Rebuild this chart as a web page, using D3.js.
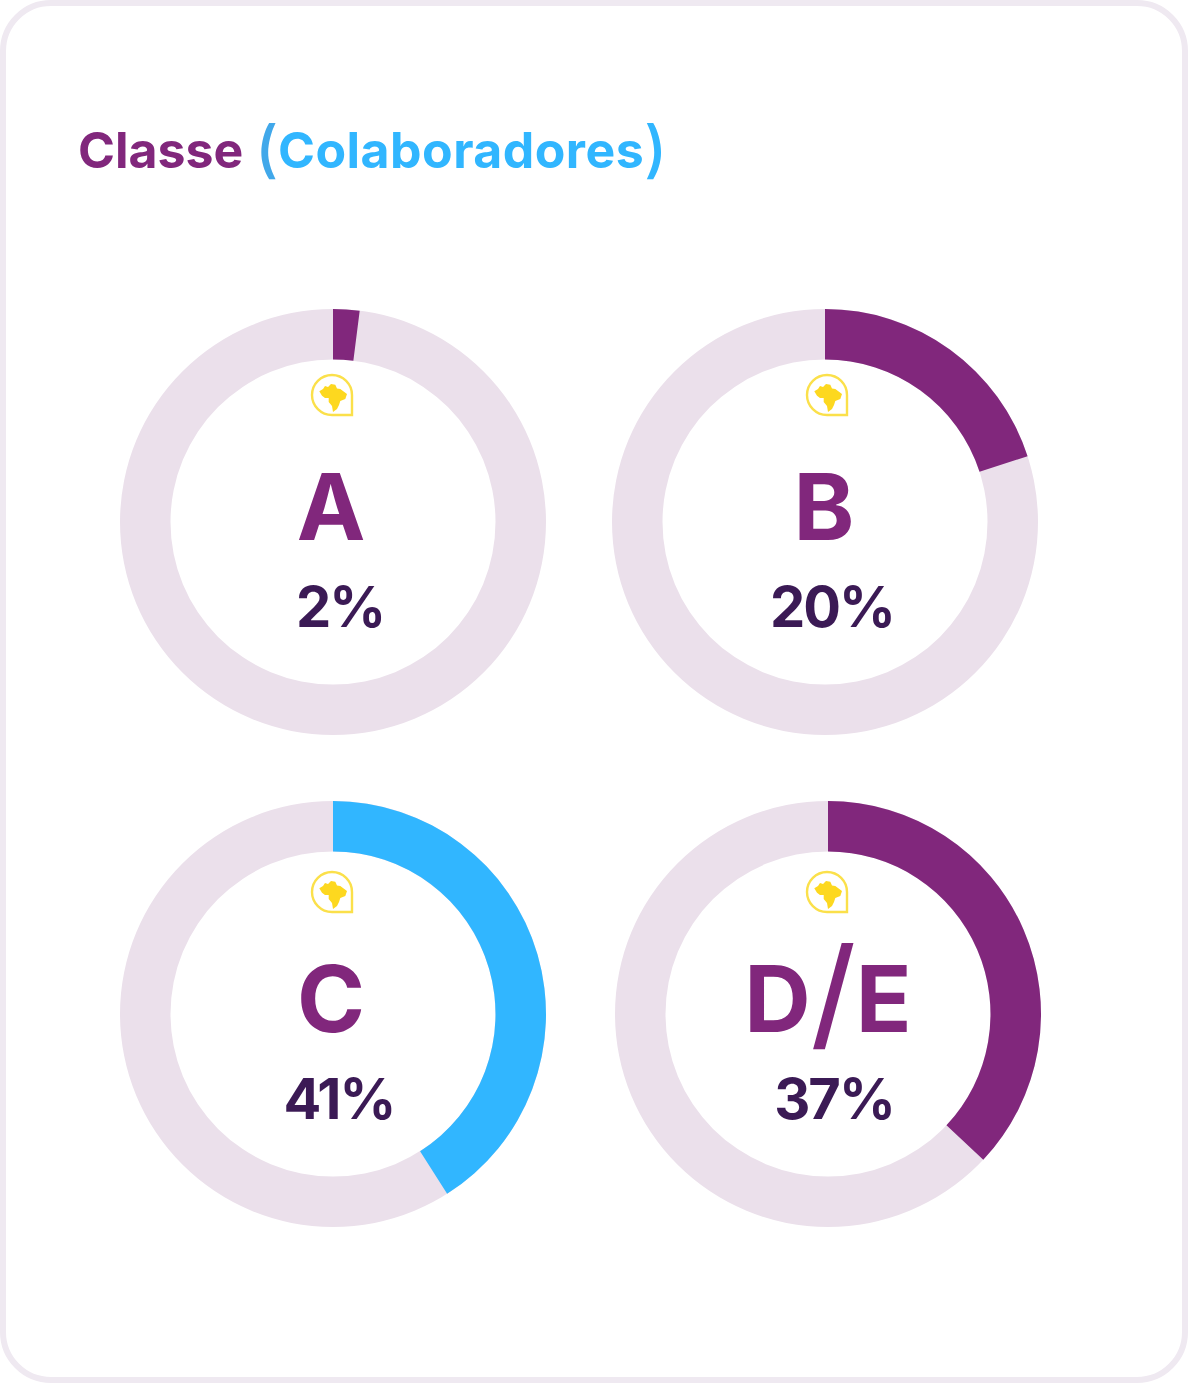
<!DOCTYPE html>
<html><head><meta charset="utf-8">
<script src="https://cdn.jsdelivr.net/npm/d3@7/dist/d3.min.js"></script>
<style>html,body{margin:0;padding:0;background:#fff}svg{display:block}text{font-family:"Inter","Noto Sans",sans-serif}</style>
</head><body><svg id="c" width="1188" height="1383"></svg>
<script>
const categories=["A","B","C","D/E"];
const values=[2,20,41,37];
const valueLabels=["2%","20%","41%","37%"];
const colors=["#81277c","#81277c","#31b6ff","#81277c"];
const centers=[[333,522],[825,522],[333,1014],[828,1014]];
const labelX=[331,824,331,828];
const pctX=[340,832,339,834];
const iconPos=[[332,395],[827,395],[332,892],[827,892]];
const svg=d3.select("#c");
svg.append("rect").attr("x",3).attr("y",3).attr("width",1182).attr("height",1377).attr("rx",48).attr("fill","#fff").attr("stroke","#efe9f1").attr("stroke-width",6);
const t=svg.append("text").attr("x",78).attr("y",168).attr("font-size",50).attr("font-weight",700);
t.append("tspan").attr("fill","#81277c").text("Classe ");
t.append("tspan").attr("fill","#41a8ea").attr("font-size",62).attr("font-weight",500).attr("dy",3).text("(");
t.append("tspan").attr("fill","#31b6ff").attr("dy",-3).attr("letter-spacing",0.45).text("Colaboradores");
t.append("tspan").attr("fill","#31b6ff").attr("font-size",62).attr("font-weight",500).attr("dy",3).text(")");
const angle=d3.scaleLinear().domain([0,100]).range([0,2*Math.PI]);
const arc=d3.arc().innerRadius(162.5).outerRadius(213);
categories.forEach((c,i)=>{
 const g=svg.append("g").attr("transform",`translate(${centers[i]})`);
 g.append("path").attr("d",arc({startAngle:0,endAngle:2*Math.PI})).attr("fill","#ebe0eb");
 g.append("path").attr("d",arc({startAngle:0,endAngle:angle(values[i])})).attr("fill",colors[i]);
 const ic=svg.append("g").attr("transform",`translate(${iconPos[i]})`);
 ic.append("path").attr("d","M0,-20 A20,20 0 1 0 0,20 L20,20 L20,0 A20,20 0 0 0 0,-20Z").attr("fill","#fff").attr("stroke","#fbe04a").attr("stroke-width",2.4);
 ic.append("path").attr("d","M-12.7,-3.7 L-9,-6 L-7,-9 L-4,-8 L-1,-11 L3.3,-10.3 L5,-6.5 L8.3,-6 L15,-1 L13.3,4 L8.3,6 L7,10 L5,14 L1,17 L0,11 L-3.3,7 L-3.3,3 L-7,3 L-10,0.7Z").attr("fill","#fdd81f");
 const lab=svg.append("text").attr("x",labelX[i]).attr("y",centers[i][1]+18).attr("text-anchor","middle").attr("font-size",92).attr("font-weight",700).attr("fill","#81277c");
 if(c.includes("/")){
   const parts=c.split("/");
   lab.append("tspan").text(parts[0]);
   lab.append("tspan").attr("font-size",122).attr("font-weight",500).attr("dy",4).text("/");
   lab.append("tspan").attr("dy",-4).text(parts[1]);
 } else lab.text(c);
 svg.append("text").attr("x",pctX[i]).attr("y",centers[i][1]+105).attr("text-anchor","middle").attr("font-size",56).attr("font-weight",700).attr("letter-spacing",-2).attr("fill","#3b1a55").text(valueLabels[i]);
});
</script></body></html>
